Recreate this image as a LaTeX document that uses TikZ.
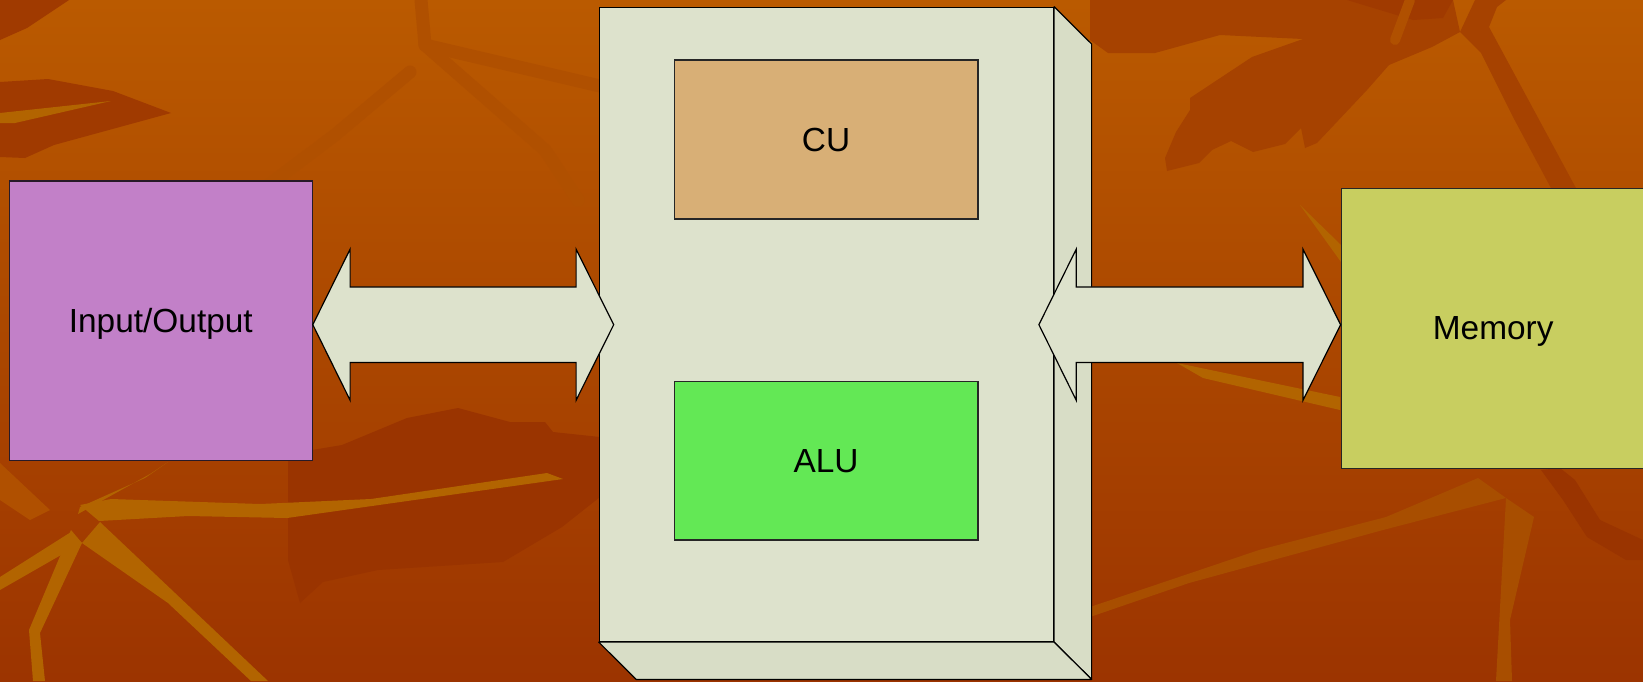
\documentclass[tikz,border=0pt]{standalone}
\usepackage{fontspec}
\setmainfont{Liberation Sans}
\usetikzlibrary{calc}

% background palette
\definecolor{bgtop}{RGB}{186,90,0}
\definecolor{bgmid}{RGB}{174,76,0}
\definecolor{bgbot}{RGB}{156,52,0}
\definecolor{leafdark}{RGB}{160,58,0}
\definecolor{leafmid}{RGB}{166,66,0}
\definecolor{twig}{RGB}{176,80,0}
\definecolor{gold}{RGB}{178,100,0}
\definecolor{goldmuted}{RGB}{168,78,0}
\definecolor{deep}{RGB}{154,52,0}
% diagram palette
\definecolor{panel}{RGB}{221,226,204}
\definecolor{panelside}{RGB}{216,221,198}
\definecolor{cuC}{RGB}{216,175,118}
\definecolor{aluC}{RGB}{99,232,85}
\definecolor{ioC}{RGB}{194,128,200}
\definecolor{memC}{RGB}{200,206,96}

\tikzset{
  unit/.style={draw=black!85, line width=1.2pt, inner sep=0pt, text depth=0pt,
               font=\fontsize{33.4}{40}\selectfont},
  cubeface/.style={draw=black, line width=1.2pt, fill=panel, inner sep=0pt},
  cubeside/.style={draw=black, line width=1.2pt, fill=panelside, line join=round},
  arrowbody/.style={draw=black, line width=1.2pt, fill=panel, line join=miter},
  twigline/.style={twig, line width=13pt, line cap=round, line join=round},
}

% double-headed block arrow between two points on the same horizontal line
\newcommand\blockarrow[2]{%
  \draw[arrowbody] let \p1=(#1), \p2=(#2) in
    (\x1,\y1) -- (\x1+37.3pt,\y1+75.5pt) -- (\x1+37.3pt,\y1+37.8pt)
    -- (\x2-37.6pt,\y1+37.8pt) -- (\x2-37.6pt,\y1+75.5pt) -- (\x2,\y1)
    -- (\x2-37.6pt,\y1-75.5pt) -- (\x2-37.6pt,\y1-37.8pt)
    -- (\x1+37.3pt,\y1-37.8pt) -- (\x1+37.3pt,\y1-75.5pt) -- cycle;}

\begin{document}
\begin{tikzpicture}[x=1pt,y=-1pt]
\useasboundingbox (0,0) rectangle (1643,681);

% ---------- autumn background ----------
\begin{scope}
\clip (0,0) rectangle (1643,681);
\shade[top color=bgtop, middle color=bgmid, bottom color=bgbot] (0,0) rectangle (1643,681);

% dark leaves
\fill[leafdark] (0,0) -- (69,0) -- (27,28) -- (0,40) -- cycle;
\fill[leafdark] (0,82) -- (48,79) -- (113,91) -- (171,113) -- (54,145) -- (25,158) -- (0,157) -- cycle;
\fill[gold] (0,113) -- (111,101) -- (15,123) -- (0,123) -- cycle;
\fill[leafmid] (1090,40) -- (1108,53) -- (1155,53) -- (1220,35) -- (1303,39) -- (1252,57)
  -- (1190,98) -- (1190,110) -- (1176,132) -- (1165,158) -- (1167,171) -- (1199,163)
  -- (1212,150) -- (1231,141) -- (1253,152) -- (1285,144) -- (1301,128) -- (1305,148)
  -- (1317,143) -- (1367,90) -- (1389,65) -- (1432,47) -- (1460,32) -- (1453,0) -- (1090,0) -- cycle;
\fill[leafdark] (1347,0) -- (1453,0) -- (1443,18) -- (1413,20) -- cycle;
\fill[leafmid] (1475,0) -- (1506,0) -- (1497,7) -- (1489,27) -- (1577,190) -- (1552,190)
  -- (1513,117) -- (1481,53) -- (1460,32) -- cycle;
\fill[deep] (300,452) -- (342,445) -- (407,418) -- (458,408) -- (510,422) -- (545,422)
  -- (553,432) -- (600,437) -- (600,497) -- (562,527) -- (503,562) -- (378,570)
  -- (323,582) -- (300,603) -- (288,560) -- (288,458) -- cycle;

% faint twigs
\draw[twigline] (421,0) -- (425,45) -- (600,86);
\draw[twigline] (425,45) -- (545,150) -- (578,200);
\draw[twigline] (410,72) -- (335,135) -- (262,190);
\draw[twigline, line width=10pt] (1410,0) -- (1395,40);

% golden veins, lower left
\fill[gold] (99,521) -- (188,516) -- (287,518) -- (563,479) -- (547,473) -- (371,499)
  -- (260,504) -- (111,499) -- (80,505) -- cycle;
\fill[gold] (71,530) -- (29,630) -- (33,681) -- (45,681) -- (40,633) -- (82,543) -- cycle;
\fill[gold] (100,522) -- (268,681) -- (251,681) -- (168,603) -- (82,543) -- cycle;
\fill[gold] (71,532) -- (0,577) -- (0,590) -- (82,543) -- cycle;
\fill[gold] (80,507) -- (145,478) -- (168,462) -- (150,474) -- (78,514) -- cycle;
\fill[twig] (0,463) -- (50,510) -- (30,520) -- (0,500) -- cycle;

% golden veins, right
\fill[goldmuted] (1090,607) -- (1259,550) -- (1386,517) -- (1478,478) -- (1506,498)
  -- (1383,530) -- (1189,583) -- (1090,617) -- cycle;
\fill[goldmuted] (1506,498) -- (1496,681) -- (1512,681) -- (1510,620) -- (1534,517) -- cycle;
\fill[deep] (1541,470) -- (1563,500) -- (1587,537) -- (1626,560) -- (1643,560) -- (1643,540)
  -- (1600,520) -- (1575,480) -- (1560,468) -- cycle;
\fill[gold] (1177,363) -- (1203,378) -- (1340,410) -- (1340,397) -- cycle;
\fill[gold] (1300,205) -- (1341,245) -- (1341,262) -- cycle;
\end{scope}

% ---------- processor block ----------
\node (cpu) [cubeface, minimum width=454.2pt, minimum height=634.2pt] at (826.4,324.4) {};
\draw[cubeside] (cpu.north east) -- ++(37.5,37.3) -- ($(cpu.south east)+(37.5,37.3)$)
  -- (cpu.south east) -- cycle;
\draw[cubeside] (cpu.south west) -- ++(37.5,37.3) -- ($(cpu.south east)+(37.5,37.3)$)
  -- (cpu.south east) -- cycle;

\node (cu)  [unit, fill=cuC,  minimum width=303.6pt, minimum height=159pt]   at (826.1,139.4) {CU};
\node (alu) [unit, fill=aluC, minimum width=303.6pt, minimum height=158.5pt] at (826.1,460.7) {ALU};

% ---------- peripherals ----------
\node (io)  [unit, draw=black!80!ioC, fill=ioC,  minimum width=302.8pt, minimum height=279.3pt] at (160.8,320.6) {Input/Output};
\node (mem) [unit, fill=memC, minimum width=304pt, minimum height=279.7pt] at (1493.2,328.5) {Memory};

% ---------- buses ----------
\coordinate (bus) at (0,324.7);
\coordinate (ioport)  at (io.east |- bus);
\coordinate (cpuin)   at ($(cpu.west |- bus)+(15,0)$);
\coordinate (cpuout)  at ($(cpu.east |- bus)+(-15.2,0)$);
\coordinate (memport) at (mem.west |- bus);
\blockarrow{ioport}{cpuin}
\blockarrow{cpuout}{memport}
\end{tikzpicture}
\end{document}
